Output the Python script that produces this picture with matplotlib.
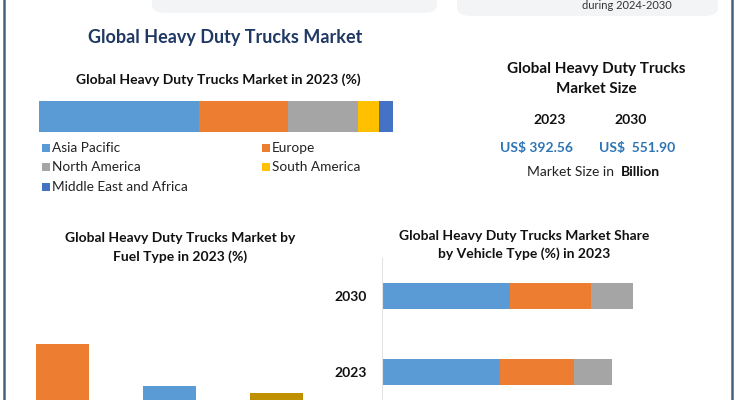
import matplotlib.pyplot as plt
import numpy as np
from matplotlib.patches import FancyBboxPatch, Rectangle

plt.rcParams["font.family"] = ["Lato", "DejaVu Sans"]

W, H = 735, 400

# ---- data ----
regions = ["Asia Pacific", "Europe", "North America", "South America", "Middle East and Africa"]
region_share = [45.1, 25.1, 19.9, 5.9, 4.0]
region_colors = ["#5B9BD5", "#ED7D31", "#A5A5A5", "#FFC000", "#4472C4"]

size_years = ["2023", "2030"]
size_values = ["US$ 392.56", "US$  551.90"]

fuel_types = ["Diesel", "Natural Gas", "Electric"]
fuel_share = [48.0, 27.0, 23.5]
fuel_colors = ["#ED7D31", "#5B9BD5", "#BF9000"]

vehicle_years = ["2023", "2030"]
vehicle_types = ["Type A", "Type B", "Type C"]
vehicle_share = {
    "Type A": [47.2, 51.2],
    "Type B": [29.6, 32.4],
    "Type C": [15.2, 16.8],
}
vehicle_colors = ["#5B9BD5", "#ED7D31", "#A5A5A5"]


def fx(px):
    return px / W


def fy(py):
    return 1 - py / H


def box(x0, y0, x1, y1):
    # pixel box (top-left origin) -> figure rect
    return [fx(x0), fy(y1), fx(x1) - fx(x0), (y1 - y0) / H]


fig = plt.figure(figsize=(7.35, 4.0), dpi=100)
fig.patch.set_facecolor("white")

# frame lines + top cards
for xp in (3.5, 731.5):
    fig.add_artist(plt.Line2D([fx(xp), fx(xp)], [0, 1], color="#46627c", lw=1.8))
fig.add_artist(FancyBboxPatch((fx(152), fy(13)), fx(437) - fx(152), 0.08,
                              boxstyle="round,pad=0,rounding_size=0.02",
                              fc="#f3f4f5", ec="none", transform=fig.transFigure))
fig.add_artist(FancyBboxPatch((fx(457), fy(16)), fx(718) - fx(457), 0.08,
                              boxstyle="round,pad=0,rounding_size=0.02",
                              fc="#f3f4f5", ec="none", transform=fig.transFigure))
fig.text(fx(627), fy(5.5), "during 2024-2030", ha="center", va="center",
         fontsize=8, color="#333333")

# main title
fig.text(fx(225), fy(37), "Global Heavy Duty Trucks Market", ha="center", va="center",
         fontsize=13, fontweight="bold", color="#1F3864")

# ---- regional stacked bar ----
fig.text(fx(218), fy(80), "Global Heavy Duty Trucks Market in 2023 (%)", ha="center",
         va="center", fontsize=10, fontweight="bold", color="#111111")
ax1 = fig.add_axes(box(39, 101, 393, 132))
left = 0
for v, c in zip(region_share, region_colors):
    ax1.barh(0, v, left=left, height=1, color=c, edgecolor="none")
    left += v
ax1.set_xlim(0, sum(region_share))
ax1.set_ylim(-0.5, 0.5)
ax1.axis("off")

leg_pos = [(42, 148), (262, 148), (42, 167), (262, 167), (42, 187)]
for (lx, ly), name, c in zip(leg_pos, regions, region_colors):
    fig.add_artist(Rectangle((fx(lx), fy(ly + 4)), 8 / W, 8 / H, fc=c, ec="none",
                             transform=fig.transFigure))
    fig.text(fx(lx + 10), fy(ly), name, ha="left", va="center", fontsize=9.8,
             color="#222222")

# ---- market size card ----
fig.text(fx(596), fy(69), "Global Heavy Duty Trucks", ha="center", va="center",
         fontsize=11, fontweight="bold", color="#111111")
fig.text(fx(596), fy(89), "Market Size", ha="center", va="center",
         fontsize=11, fontweight="bold", color="#111111")
for xy, xv, yr, val in zip((550, 631), (537, 637), size_years, size_values):
    fig.text(fx(xy), fy(120), yr, ha="center", va="center", fontsize=10,
             fontweight="bold", color="#111111")
    fig.text(fx(xv), fy(148), val, ha="center", va="center", fontsize=10,
             fontweight="bold", color="#2E75B6")
fig.text(fx(614), fy(172), "Market Size in", ha="right", va="center",
         fontsize=10, color="#222222")
fig.text(fx(621), fy(172), "Billion", ha="left", va="center",
         fontsize=10, fontweight="bold", color="#111111")

# ---- fuel type bars ----
fig.text(fx(180), fy(238), "Global Heavy Duty Trucks Market by", ha="center",
         va="center", fontsize=10, fontweight="bold", color="#111111")
fig.text(fx(180), fy(257), "Fuel Type in 2023 (%)", ha="center", va="center",
         fontsize=10, fontweight="bold", color="#111111")
ax2 = fig.add_axes(box(9, 320, 330, 440))
xpos = np.arange(len(fuel_types))
ax2.bar(xpos, fuel_share, width=0.5, color=fuel_colors, edgecolor="none")
ax2.set_xlim(-0.5, len(fuel_types) - 0.5)
ax2.set_ylim(0, 60)
ax2.axis("off")

# ---- vehicle type stacked bars ----
fig.text(fx(524), fy(236), "Global Heavy Duty Trucks Market Share", ha="center",
         va="center", fontsize=10, fontweight="bold", color="#111111")
fig.text(fx(524), fy(254), "by Vehicle Type (%) in 2023", ha="center", va="center",
         fontsize=10, fontweight="bold", color="#111111")
ax3 = fig.add_axes(box(382, 258, 732, 410))
ypos = np.array([0, 1])
left = np.zeros(len(vehicle_years))
for t, c in zip(vehicle_types, vehicle_colors):
    vals = np.array(vehicle_share[t])
    ax3.barh(ypos, vals, left=left, height=0.35, color=c, edgecolor="none")
    left += vals
ax3.set_xlim(0, 140)
ax3.set_ylim(-0.5, 1.5)
ax3.set_yticks(ypos)
ax3.set_yticklabels(vehicle_years, fontsize=10, fontweight="bold", color="#111111")
ax3.tick_params(axis="y", length=0, pad=11)
ax3.set_xticks([])
for s in ("top", "right", "bottom"):
    ax3.spines[s].set_visible(False)
ax3.spines["left"].set_color("#e3e3e3")
ax3.set_facecolor("none")

fig.savefig("out.png", dpi=100)
